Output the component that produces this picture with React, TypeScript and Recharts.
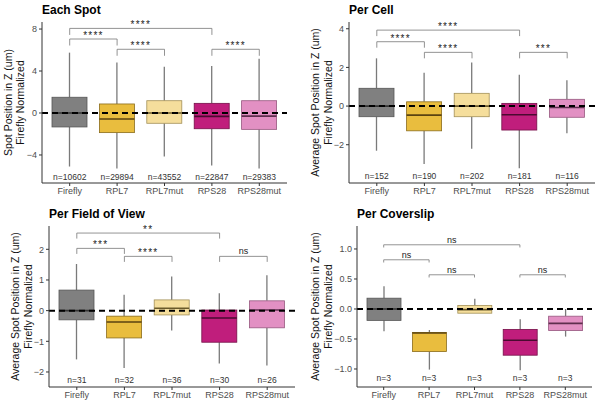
import React from 'react'
import { ComposedChart, Bar, Scatter, XAxis, YAxis, ReferenceLine } from 'recharts'

const categories = ['Firefly', 'RPL7', 'RPL7mut', 'RPS28', 'RPS28mut']
const fills = ['#808080', '#E9BD3E', '#F5DE9C', '#C01E7C', '#E290C3']
const outlines = ['#555555', '#8a6c1c', '#a39058', '#751049', '#96587f']
const medianColors = ['#333333', '#5a4310', '#6b5a2a', '#4a0a30', '#5e2e4e']

// Each Spot
const spotLow = [-5.1, -5.3, -4.15, -5.0, -5.3]
const spotQ1 = [-1.33, -1.87, -0.98, -1.5, -1.56]
const spotMedian = [0, -0.57, 0, -0.32, -0.3]
const spotQ3 = [1.5, 0.86, 1.17, 0.92, 1.17]
const spotHigh = [5.75, 4.8, 4.4, 4.48, 5.17]
const spotN = [10602, 29894, 43552, 22847, 29383]
const spotBrackets = [
  { from: 'Firefly', to: 'RPS28', y: 8.06, label: '****' },
  { from: 'Firefly', to: 'RPL7', y: 7.05, label: '****' },
  { from: 'RPL7', to: 'RPL7mut', y: 6.07, label: '****' },
  { from: 'RPS28', to: 'RPS28mut', y: 6.07, label: '****' },
]

// Per Cell
const cellLow = [-2.31, -3.0, -2.21, -3.22, -1.41]
const cellQ1 = [-0.55, -1.28, -0.55, -1.24, -0.58]
const cellMedian = [0, -0.47, 0, -0.45, -0.07]
const cellQ3 = [0.92, 0.22, 0.66, 0.14, 0.35]
const cellHigh = [2.47, 1.72, 2.26, 1.62, 1.34]
const cellN = [152, 190, 202, 181, 116]
const cellBrackets = [
  { from: 'Firefly', to: 'RPS28', y: 3.93, label: '****' },
  { from: 'Firefly', to: 'RPL7', y: 3.33, label: '****' },
  { from: 'RPL7', to: 'RPL7mut', y: 2.78, label: '****' },
  { from: 'RPS28', to: 'RPS28mut', y: 2.78, label: '***' },
]

// Per Field of View
const fovLow = [-1.59, -1.87, -0.65, -1.72, -1.79]
const fovQ1 = [-0.3, -0.89, -0.14, -1.03, -0.56]
const fovMedian = [0, -0.37, 0.08, -0.24, 0.02]
const fovQ3 = [0.67, -0.18, 0.35, 0.02, 0.32]
const fovHigh = [1.52, 0.52, 1.11, 0.57, 1.15]
const fovN = [31, 32, 36, 30, 26]
const fovBrackets = [
  { from: 'Firefly', to: 'RPS28', y: 2.53, label: '**' },
  { from: 'Firefly', to: 'RPL7', y: 2.03, label: '***' },
  { from: 'RPL7', to: 'RPL7mut', y: 1.77, label: '****' },
  { from: 'RPS28', to: 'RPS28mut', y: 1.77, label: 'ns' },
]

// Per Coverslip
const slipLow = [-0.37, -1.01, -0.07, -1.02, -0.46]
const slipQ1 = [-0.19, -0.71, -0.07, -0.77, -0.36]
const slipMedian = [0, -0.4, -0.01, -0.52, -0.24]
const slipQ3 = [0.18, -0.39, 0.06, -0.34, -0.12]
const slipHigh = [0.38, -0.35, 0.17, -0.17, 0.0]
const slipN = [3, 3, 3, 3, 3]
const slipBrackets = [
  { from: 'Firefly', to: 'RPS28', y: 1.07, label: 'ns' },
  { from: 'Firefly', to: 'RPL7', y: 0.82, label: 'ns' },
  { from: 'RPL7', to: 'RPL7mut', y: 0.57, label: 'ns' },
  { from: 'RPS28', to: 'RPS28mut', y: 0.57, label: 'ns' },
]

const font = '"Liberation Sans", Arial, Helvetica, sans-serif'
const minus = (v: number, digits = 0) => {
  const s = Math.abs(v).toFixed(digits)
  return v < 0 ? '\u2212' + s : s
}

const buildRows = (low: number[], q1: number[], med: number[], q3: number[], high: number[], n: number[], nY: number) =>
  categories.map((name, i) => ({
    name,
    box: [q1[i], q3[i]],
    low: low[i],
    q1: q1[i],
    median: med[i],
    q3: q3[i],
    high: high[i],
    n: n[i],
    nY,
    fill: fills[i],
    outline: outlines[i],
    medianColor: medianColors[i],
  }))

const BoxShape = (props: any) => {
  const { x, y, width, height, payload } = props
  const top = Math.min(y, y + height)
  const h = Math.abs(height)
  const pxPerUnit = h / (payload.q3 - payload.q1)
  const toPx = (v: number) => top + (payload.q3 - v) * pxPerUnit
  const cx = x + width / 2
  return (
    <g>
      <line x1={cx} x2={cx} y1={toPx(payload.high)} y2={top} stroke="#7a7a7a" strokeWidth={1.3} />
      <line x1={cx} x2={cx} y1={top + h} y2={toPx(payload.low)} stroke="#7a7a7a" strokeWidth={1.3} />
      <rect x={x} y={top} width={width} height={h} fill={payload.fill} stroke={payload.outline} strokeWidth={0.8} />
      <line x1={x} x2={x + width} y1={toPx(payload.median)} y2={toPx(payload.median)} stroke={payload.medianColor} strokeWidth={1.6} />
    </g>
  )
}

const NLabel = (props: any) => (
  <text x={props.cx} y={props.cy} textAnchor="middle" dominantBaseline="central" fontSize={8.5} fill="#333" fontFamily={font}>
    n={props.payload.n}
  </text>
)

interface PanelProps {
  title: string
  yLines: string[]
  rows: any[]
  brackets: { from: string; to: string; y: number; label: string }[]
  domain: [number, number]
  ticks: number[]
  digits: number
  axisWidth: number
  right: number
  barSize: number
  tip: number
}

function Panel({ title, yLines, rows, brackets, domain, ticks, digits, axisWidth, right, barSize, tip }: PanelProps) {
  return (
    <div style={{ position: 'relative', width: 300, height: 204 }}>
      <div
        style={{
          position: 'absolute',
          left: axisWidth,
          top: 4,
          fontFamily: font,
          fontWeight: 'bold',
          fontSize: 12,
          lineHeight: '12px',
          color: '#000',
        }}
      >
        {title}
      </div>
      <ComposedChart width={300} height={204} data={rows} margin={{ top: 22, right, bottom: 0, left: 0 }}>
        <XAxis
          dataKey="name"
          height={21}
          padding={{ left: 4, right: 4 }}
          tickSize={3}
          tickMargin={2}
          stroke="#333"
          tick={{ fontSize: 9, fill: '#4d4d4d', fontFamily: font }}
          interval={0}
        />
        <YAxis
          type="number"
          domain={domain}
          ticks={ticks}
          allowDataOverflow
          width={axisWidth}
          tickSize={3}
          tickMargin={2}
          stroke="#333"
          tick={{ fontSize: 9, fill: '#4d4d4d', fontFamily: font }}
          tickFormatter={(v: number) => minus(v, digits)}
          label={{
            content: (p: any) => {
              const vb = p.viewBox
              const cy = vb.y + vb.height / 2
              const xs = axisWidth > 45 ? [15, 28] : [8, 20]
              return (
                <g>
                  {yLines.map((line, i) => (
                    <text
                      key={i}
                      x={xs[i]}
                      y={cy}
                      transform={`rotate(-90 ${xs[i]} ${cy})`}
                      textAnchor="middle"
                      dominantBaseline="central"
                      fontSize={10.5}
                      fill="#111"
                      fontFamily={font}
                    >
                      {line}
                    </text>
                  ))}
                </g>
              )
            },
          }}
        />
        <Bar dataKey="box" barSize={barSize} shape={BoxShape} isAnimationActive={false} />
        <Scatter dataKey="nY" shape={NLabel} isAnimationActive={false} />
        <ReferenceLine y={0} stroke="#000" strokeWidth={2} strokeDasharray="6 4" />
        {brackets.map((b, i) => (
          <ReferenceLine
            key={'h' + i}
            segment={[{ x: b.from, y: b.y }, { x: b.to, y: b.y }]}
            stroke="#777"
            strokeWidth={0.8}
            label={{ value: b.label, position: 'top', offset: b.label === 'ns' ? 2 : 0, fontSize: b.label === 'ns' ? 9 : 10, fill: '#222', fontFamily: font, letterSpacing: b.label === 'ns' ? 0 : 1.2 }}
          />
        ))}
        {brackets.map((b, i) => (
          <ReferenceLine key={'l' + i} segment={[{ x: b.from, y: b.y }, { x: b.from, y: b.y - tip }]} stroke="#777" strokeWidth={0.8} />
        ))}
        {brackets.map((b, i) => (
          <ReferenceLine key={'r' + i} segment={[{ x: b.to, y: b.y }, { x: b.to, y: b.y - tip }]} stroke="#777" strokeWidth={0.8} />
        ))}
      </ComposedChart>
    </div>
  )
}

export default function App() {
  const yLabel = ['Average Spot Position in Z (um)', 'Firefly Normalized']
  return (
    <div style={{ position: 'absolute', left: 0, top: 0, width: 600, height: 408, background: '#fff', display: 'flex', flexWrap: 'wrap' }}>
      <Panel
        title="Each Spot"
        yLines={['Spot Position in Z (um)', 'Firefly Normalized']}
        rows={buildRows(spotLow, spotQ1, spotMedian, spotQ3, spotHigh, spotN, -6.1)}
        brackets={spotBrackets}
        domain={[-6.67, 8.67]}
        ticks={[-4, 0, 4, 8]}
        digits={0}
        axisWidth={42}
        right={13}
        barSize={35}
        tip={0.62}
      />
      <Panel
        title="Per Cell"
        yLines={yLabel}
        rows={buildRows(cellLow, cellQ1, cellMedian, cellQ3, cellHigh, cellN, -3.62)}
        brackets={cellBrackets}
        domain={[-3.98, 4.35]}
        ticks={[-2, 0, 2, 4]}
        digits={0}
        axisWidth={49}
        right={5}
        barSize={35}
        tip={0.31}
      />
      <Panel
        title="Per Field of View"
        yLines={yLabel}
        rows={buildRows(fovLow, fovQ1, fovMedian, fovQ3, fovHigh, fovN, -2.26)}
        brackets={fovBrackets}
        domain={[-2.49, 2.76]}
        ticks={[-2, -1, 0, 1, 2]}
        digits={0}
        axisWidth={49}
        right={5}
        barSize={35}
        tip={0.18}
      />
      <Panel
        title="Per Coverslip"
        yLines={yLabel}
        rows={buildRows(slipLow, slipQ1, slipMedian, slipQ3, slipHigh, slipN, -1.15)}
        brackets={slipBrackets}
        domain={[-1.3, 1.383]}
        ticks={[-1, -0.5, 0, 0.5, 1]}
        digits={1}
        axisWidth={57}
        right={8}
        barSize={34}
        tip={0.045}
      />
    </div>
  )
}
